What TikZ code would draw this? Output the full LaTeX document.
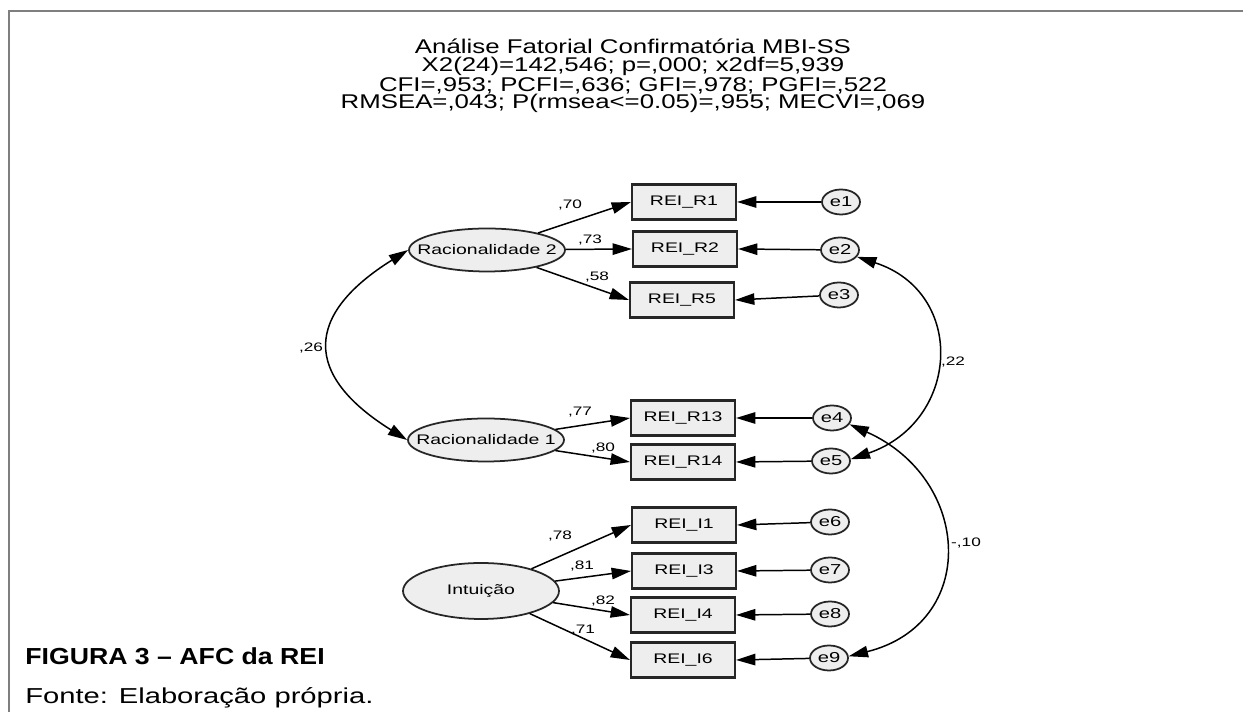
\documentclass[tikz,border=0pt]{standalone}
\usepackage{fontspec}
\setmainfont{Liberation Sans}
\newfontfamily\amosfont[FakeStretch=1.4]{Liberation Sans}
\newfontfamily\headfont[FakeStretch=1.3]{Liberation Sans}
\newfontfamily\capfont[FakeStretch=1.15]{Liberation Sans}
\newfontfamily\srcfont[FakeStretch=1.35]{Liberation Sans}
\usetikzlibrary{arrows.meta,shapes.geometric}
\definecolor{nodefill}{HTML}{EEEEEE}
\definecolor{framegray}{HTML}{7F7F7F}
\tikzset{
  obsbox/.style={draw=black!85,line width=1.2pt,fill=nodefill,minimum width=2.08cm,minimum height=0.7cm,inner sep=0pt,font=\amosfont\fontsize{7.9}{9}\selectfont},
  latent/.style={ellipse,draw=black!85,line width=1pt,fill=nodefill,minimum width=3.12cm,minimum height=0.86cm,inner sep=0pt,font=\amosfont\fontsize{7.9}{9}\selectfont},
  errnode/.style={ellipse,draw=black!85,line width=1pt,fill=nodefill,minimum width=0.76cm,minimum height=0.5cm,inner sep=0pt,font=\amosfont\fontsize{8.2}{9}\selectfont},
  coef/.style={inner sep=0pt,font=\amosfont\fontsize{7}{8}\selectfont},
  load/.style={-{Triangle[length=11pt,width=6.5pt]},line width=0.85pt},
  cov/.style={{Triangle[length=11pt,width=6.5pt]}-{Triangle[length=11pt,width=6.5pt]},line width=0.85pt}
}
\begin{document}
\begin{tikzpicture}[x=0.02cm,y=0.02cm]
	\useasboundingbox (0,0) rectangle (1243,712);
	% frame of the figure
	\draw [framegray,line width=0.8pt] (9,0) -- (9,701) -- (1243,701);
	% fit statistics
	\node [font=\headfont\fontsize{11.3}{10}\selectfont,align=center] (title) at (633,636) {Análise Fatorial Confirmatória MBI-SS\\X2(24)=142,546; p=,000; x2df=5,939\\CFI=,953; PCFI=,636; GFI=,978; PGFI=,522\\RMSEA=,043; P(rmsea<=0.05)=,955; MECVI=,069};
	% latent factors (text boxed to zero width so the ellipse keeps its size)
	\node [latent] (rac2) at (487,462) {\makebox[0pt]{Racionalidade 2}};
	\node [latent] (rac1) at (486,272) {\makebox[0pt]{Racionalidade 1}};
	\node [latent,minimum height=1.12cm] (intu) at (481,121) {\makebox[0pt]{Intuição}};
	% items
	\node [obsbox] (R1) at (684,510) {REI\_R1};
	\node [obsbox] (R2) at (685,463) {REI\_R2};
	\node [obsbox] (R5) at (682,412) {REI\_R5};
	\node [obsbox] (R13) at (683,294) {REI\_R13};
	\node [obsbox] (R14) at (683,250) {REI\_R14};
	\node [obsbox] (I1) at (684,187) {REI\_I1};
	\node [obsbox] (I3) at (684,141) {REI\_I3};
	\node [obsbox] (I4) at (683,97) {REI\_I4};
	\node [obsbox] (I6) at (683,52) {REI\_I6};
	% errors
	\node [errnode] (e1) at (841,510) {e1};
	\node [errnode] (e2) at (840,462) {e2};
	\node [errnode] (e3) at (839,417) {e3};
	\node [errnode] (e4) at (832,294) {e4};
	\node [errnode] (e5) at (831,251) {e5};
	\node [errnode] (e6) at (830,190) {e6};
	\node [errnode] (e7) at (830,142) {e7};
	\node [errnode] (e8) at (830,98) {e8};
	\node [errnode] (e9) at (829,54) {e9};
	% loadings
	\draw [load] (rac2) -- (R1.west);
	\draw [load] (rac2) -- (R2.west);
	\draw [load] (rac2) -- (R5.west);
	\draw [load] (rac1) -- (R13.west);
	\draw [load] (rac1) -- (R14.west);
	\draw [load] (intu) -- (I1.west);
	\draw [load] (intu) -- (I3.west);
	\draw [load] (intu) -- (I4.west);
	\draw [load] (intu) -- (I6.west);
	\draw [load] (e1) -- (R1.east);
	\draw [load] (e2) -- (R2.east);
	\draw [load] (e3) -- (R5.east);
	\draw [load] (e4) -- (R13.east);
	\draw [load] (e5) -- (R14.east);
	\draw [load] (e6) -- (I1.east);
	\draw [load] (e7) -- (I3.east);
	\draw [load] (e8) -- (I4.east);
	\draw [load] (e9) -- (I6.east);
	% covariances
	\draw [cov] (rac2.west) to [out=212,in=148,looseness=1.65] (rac1.west);
	\draw [cov] (e2.-22) to [out=-18,in=19,looseness=1.46] (e5.5);
	\draw [cov] (e4.-20) to [out=-24,in=14,looseness=1.48] (e9.5);
	% estimates
	\node [coef] (cR1) at (570,507) {,70};
	\node [coef] (cR2) at (590,472) {,73};
	\node [coef] (cR5) at (597,435) {,58};
	\node [coef] (cR13) at (580,300) {,77};
	\node [coef] (cR14) at (603,264) {,80};
	\node [coef] (cI1) at (560,176) {,78};
	\node [coef] (cI3) at (582,146) {,81};
	\node [coef] (cI4) at (603,111) {,82};
	\node [coef] (cI6) at (583,82) {,71};
	\node [coef] (crac) at (311,364) {,26};
	\node [coef] (ce25) at (953,350) {,22};
	\node [coef] (ce49) at (966,169) {-,10};
	% caption
	\node [font=\capfont\bfseries\fontsize{13.2}{15}\selectfont,anchor=base west,inner sep=0pt] (figcap) at (25,47) {FIGURA 3 – AFC da REI};
	\node [font=\srcfont\fontsize{12.3}{14}\selectfont,anchor=base west,inner sep=0pt] (source) at (25,8) {Fonte: Elaboração própria.};
\end{tikzpicture}
\end{document}
